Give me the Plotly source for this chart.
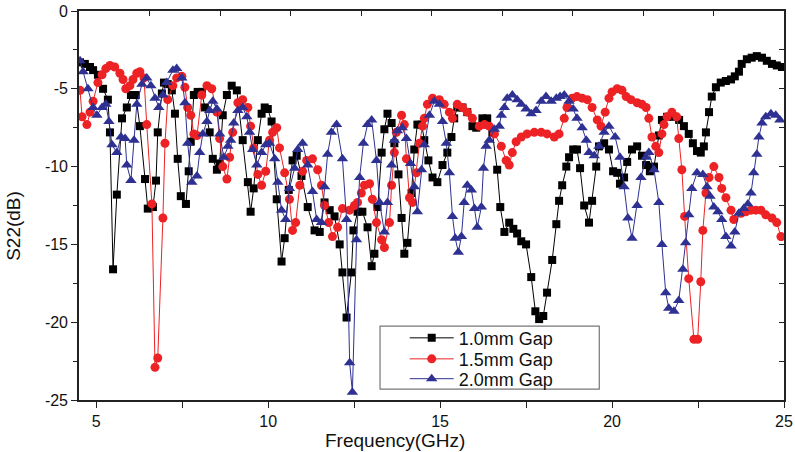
import plotly.graph_objects as go

# ---------------- data ----------------
gap10_f = [4.53,4.67,4.82,4.91,5.05,5.20,5.34,5.40,5.49,5.60,5.75,5.89,6.01,6.15,6.27,6.42,6.50,6.65,6.74,6.79,
           6.91,6.97,7.08,7.20,7.29,7.37,7.46,7.61,7.69,7.75,7.84,7.95,8.07,8.16,8.30,8.39,8.51,8.59,8.68,8.80,
           8.94,9.09,9.26,9.41,9.49,9.58,9.70,9.81,9.90,9.99,10.10,10.25,10.39,10.48,10.60,10.71,10.83,10.97,11.15,11.35,
           11.50,11.64,11.79,11.93,12.08,12.16,12.28,12.42,12.48,12.60,12.74,12.89,13.01,13.09,13.18,13.30,13.38,13.47,13.59,13.67,
           13.79,13.88,13.96,14.05,14.17,14.25,14.34,14.46,14.54,14.66,14.78,14.92,15.07,15.21,15.33,15.41,15.50,15.65,15.79,15.94,
           16.05,16.23,16.37,16.52,16.66,16.75,16.87,17.01,17.13,17.24,17.36,17.50,17.65,17.77,17.88,18.00,18.11,18.26,18.38,18.46,
           18.55,18.67,18.75,18.87,18.98,19.07,19.19,19.33,19.42,19.54,19.62,19.77,19.91,20.03,20.15,20.23,20.35,20.44,20.58,20.73,
           20.87,20.99,21.10,21.22,21.36,21.45,21.60,21.80,21.95,22.09,22.23,22.35,22.47,22.58,22.67,22.73,22.82,22.90,23.02,23.16,
           23.31,23.46,23.57,23.69,23.77,23.92,24.06,24.21,24.36,24.50,24.65,24.79,24.94]
gap10_s22 = [-3.3,-3.4,-3.6,-3.8,-4.1,-5.0,-5.7,-7.8,-16.6,-11.8,-6.9,-6.2,-5.4,-5.4,-7.4,-10.8,-12.7,-12.6,-10.9,-7.8,
             -5.3,-4.6,-4.7,-5.1,-6.6,-9.5,-11.9,-12.4,-10.3,-8.4,-5.4,-5.2,-5.2,-6.2,-7.8,-9.5,-10.2,-9.8,-6.7,-5.4,
             -4.8,-5.1,-8.3,-11.0,-12.9,-11.4,-8.3,-6.6,-6.2,-6.3,-7.1,-12.1,-16.1,-14.6,-11.5,-9.6,-9.3,-10.6,-12.6,-14.1,
             -14.2,-12.3,-12.8,-13.2,-15.0,-16.8,-19.7,-16.8,-14.1,-12.9,-12.9,-13.9,-16.4,-15.6,-12.6,-9.1,-7.6,-6.6,-7.2,-8.5,
             -10.5,-13.3,-15.6,-14.9,-11.7,-8.9,-7.3,-7.3,-8.3,-9.6,-10.7,-11.0,-9.9,-9.1,-8.1,-6.9,-6.2,-6.2,-6.5,-7.4,
             -7.5,-6.9,-6.9,-7.8,-10.2,-12.6,-14.2,-13.6,-14.0,-14.3,-14.8,-15.0,-17.1,-19.3,-19.8,-19.6,-18.1,-16.0,-13.7,-12.2,
             -11.2,-10.0,-9.4,-8.9,-8.9,-10.1,-12.5,-13.6,-12.2,-10.0,-8.7,-8.5,-8.9,-10.3,-10.4,-11.1,-10.7,-9.7,-8.9,-8.7,
             -9.3,-9.9,-10.3,-10.0,-8.0,-7.0,-6.8,-6.8,-7.0,-7.4,-7.9,-8.5,-9.0,-9.1,-8.7,-7.8,-6.5,-5.5,-4.9,-4.6,
             -4.5,-4.4,-4.2,-3.9,-3.4,-3.1,-3.0,-2.9,-3.0,-3.2,-3.4,-3.5,-3.6]

gap15_f = [4.53,4.59,4.73,4.82,4.91,5.05,5.17,5.28,5.40,5.54,5.69,5.78,5.86,5.98,6.07,6.18,6.27,6.39,6.47,6.62,
           6.71,6.79,6.94,7.00,7.08,7.23,7.34,7.49,7.58,7.66,7.75,7.84,7.93,8.07,8.22,8.36,8.51,8.59,8.68,8.80,
           8.88,8.97,9.12,9.26,9.41,9.49,9.58,9.70,9.81,9.93,10.04,10.13,10.25,10.33,10.48,10.62,10.71,10.80,10.92,11.00,
           11.12,11.29,11.44,11.55,11.64,11.76,11.87,12.02,12.16,12.37,12.51,12.60,12.71,12.80,12.95,13.03,13.15,13.30,13.38,13.53,
           13.59,13.67,13.73,13.88,13.96,14.02,14.11,14.20,14.31,14.40,14.49,14.54,14.63,14.78,14.98,15.12,15.27,15.36,15.50,15.65,
           15.79,15.94,16.14,16.29,16.43,16.58,16.78,16.92,17.01,17.10,17.21,17.36,17.53,17.74,17.94,18.11,18.32,18.46,18.61,18.69,
           18.84,18.98,19.13,19.28,19.42,19.57,19.68,19.80,19.91,20.00,20.15,20.29,20.41,20.55,20.73,20.87,20.99,21.07,21.16,21.27,
           21.36,21.45,21.51,21.60,21.74,21.88,21.94,22.03,22.11,22.23,22.38,22.49,22.58,22.64,22.73,22.82,22.96,23.11,23.19,23.31,
           23.46,23.54,23.75,23.89,24.04,24.18,24.33,24.47,24.65,24.79,24.91]
gap15_s22 = [-5.1,-6.8,-7.3,-6.5,-5.8,-4.6,-4.1,-3.7,-3.5,-3.6,-4.0,-4.4,-5.0,-4.8,-4.4,-4.0,-3.9,-4.3,-7.3,-12.4,
             -22.9,-22.3,-13.3,-8.5,-5.7,-4.8,-4.3,-4.2,-4.9,-6.2,-6.7,-7.9,-8.0,-5.4,-4.8,-5.0,-6.5,-8.2,-10.0,-10.8,
             -9.4,-7.8,-5.9,-5.7,-6.2,-7.4,-8.8,-10.5,-11.2,-10.3,-8.3,-7.8,-7.5,-8.8,-10.4,-12.1,-14.1,-13.6,-11.2,-10.3,
             -9.6,-9.5,-10.2,-11.2,-12.5,-13.6,-14.5,-13.9,-12.7,-12.8,-12.5,-12.3,-11.7,-11.2,-11.1,-12.1,-13.6,-14.7,-15.2,-13.6,
             -11.2,-9.1,-7.8,-6.7,-7.3,-9.5,-12.0,-12.3,-10.4,-8.5,-7.4,-6.9,-6.0,-5.6,-5.7,-6.0,-6.5,-6.9,-6.0,-6.2,
             -6.5,-6.9,-7.4,-7.3,-7.4,-7.9,-8.7,-9.6,-9.9,-9.1,-8.4,-8.1,-7.9,-7.8,-7.8,-7.9,-8.1,-7.9,-6.9,-6.2,
             -5.6,-5.5,-5.6,-5.7,-6.2,-7.0,-7.4,-6.5,-5.6,-5.2,-5.0,-5.1,-5.5,-5.7,-5.9,-6.0,-6.2,-6.9,-8.1,-8.7,
             -9.1,-7.9,-7.3,-6.8,-6.5,-6.8,-8.2,-10.2,-13.2,-17.2,-21.1,-21.1,-17.4,-14.1,-11.7,-10.7,-10.0,-10.7,-11.4,-12.0,
             -12.8,-13.4,-13.0,-12.9,-12.8,-12.8,-12.8,-13.1,-13.3,-13.6,-14.5]

gap20_f = [4.53,4.62,4.76,4.91,5.02,5.17,5.28,5.37,5.46,5.60,5.72,5.84,5.89,6.01,6.10,6.18,6.33,6.47,6.59,6.71,
           6.82,6.94,7.05,7.23,7.34,7.49,7.58,7.66,7.78,7.93,8.01,8.10,8.22,8.30,8.39,8.51,8.59,8.71,8.83,8.91,
           9.00,9.12,9.26,9.38,9.46,9.55,9.67,9.81,9.93,10.04,10.19,10.28,10.39,10.51,10.62,10.77,10.86,11.00,11.15,11.29,
           11.41,11.55,11.64,11.73,11.84,11.99,12.16,12.28,12.37,12.45,12.57,12.66,12.77,12.89,13.01,13.15,13.24,13.38,13.47,13.59,
           13.67,13.76,13.90,14.02,14.14,14.25,14.34,14.46,14.54,14.69,14.83,14.98,15.07,15.18,15.27,15.36,15.44,15.53,15.62,15.70,
           15.79,15.91,16.00,16.08,16.20,16.26,16.34,16.43,16.58,16.72,16.78,16.87,16.95,17.10,17.24,17.36,17.50,17.65,17.79,17.94,
           18.08,18.23,18.38,18.49,18.61,18.75,18.87,18.98,19.13,19.25,19.33,19.48,19.62,19.77,19.91,20.09,20.23,20.35,20.46,20.58,
           20.73,20.84,20.99,21.07,21.22,21.36,21.45,21.56,21.65,21.80,21.94,22.06,22.14,22.23,22.32,22.47,22.64,22.76,22.85,22.96,
           23.08,23.19,23.31,23.46,23.57,23.69,23.83,23.95,24.04,24.12,24.21,24.27,24.36,24.47,24.62,24.76,24.88]
gap20_s22 = [-3.2,-3.9,-5.0,-6.2,-6.7,-6.2,-6.0,-7.1,-8.6,-9.1,-8.1,-8.2,-9.9,-10.9,-8.3,-6.0,-4.7,-4.3,-4.8,-5.6,
             -6.2,-5.4,-4.6,-3.8,-3.7,-4.3,-5.9,-8.5,-11.0,-10.6,-9.1,-7.9,-7.1,-6.4,-5.8,-6.3,-7.9,-9.4,-8.7,-8.3,
             -7.2,-6.4,-6.2,-6.8,-7.8,-8.9,-9.9,-9.1,-8.6,-8.5,-9.5,-11.0,-12.8,-13.4,-11.4,-10.1,-8.9,-8.5,-9.9,-11.6,
             -13.4,-13.6,-11.3,-9.2,-7.8,-7.3,-9.5,-13.4,-22.6,-24.5,-14.7,-10.7,-8.5,-7.3,-7.0,-9.6,-12.3,-14.2,-12.3,-9.9,
             -8.3,-7.7,-7.5,-8.2,-9.8,-11.3,-12.9,-10.2,-8.6,-6.7,-5.8,-6.0,-7.1,-8.5,-10.4,-13.2,-14.6,-15.5,-14.5,-12.3,
             -11.2,-11.5,-12.7,-13.9,-12.6,-10.1,-8.7,-8.3,-7.6,-7.4,-6.7,-6.2,-5.6,-5.4,-5.7,-6.0,-6.3,-6.6,-6.4,-5.8,
             -5.5,-5.8,-5.6,-5.5,-5.4,-5.8,-6.3,-6.9,-7.5,-8.3,-9.1,-9.3,-8.7,-7.8,-7.4,-8.1,-9.4,-11.3,-13.3,-14.6,
             -12.5,-10.7,-9.4,-9.1,-10.2,-12.3,-15.0,-18.1,-19.1,-19.3,-18.6,-16.6,-14.9,-13.1,-11.4,-10.4,-10.5,-11.3,-11.9,-12.6,
             -12.9,-13.4,-14.5,-15.1,-14.2,-13.0,-12.7,-12.4,-11.7,-10.4,-9.2,-8.1,-7.2,-6.8,-6.6,-6.7,-7.0]

series_names = ["1.0mm Gap", "1.5mm Gap", "2.0mm Gap"]
series_colors = ["#000000", "#ED2224", "#2E3192"]
series_symbols = ["square", "circle", "triangle-up"]

y_tickvals = [-25, -20, -15, -10, -5, 0]
y_ticktext = ["-25", "-20", "-15", "-10", "-5", "0"]
x_tickvals = [5, 10, 15, 20, 25]
x_ticktext = ["5", "10", "15", "20", "25"]

FONT = "Liberation Sans, Arial, sans-serif"
AX = "#222222"

# ---------------- figure ----------------
fig = go.Figure()
xs = [gap10_f, gap15_f, gap20_f]
ys = [gap10_s22, gap15_s22, gap20_s22]
sizes = [8, 9, 10]
legend_ids = ["legend", "legend2", "legend3"]
for x, y, name, col, sym, sz, lg in zip(xs, ys, series_names, series_colors, series_symbols, sizes, legend_ids):
    fig.add_trace(go.Scatter(
        x=x, y=y, name=name, mode="lines+markers", legend=lg,
        line=dict(color=col, width=1),
        marker=dict(symbol=sym, size=sz, color=col, line=dict(width=0)),
    ))

# invisible trace to carry the mirrored top/right axes
fig.add_trace(go.Scatter(x=[None], y=[None], xaxis="x2", yaxis="y2",
                         showlegend=False, hoverinfo="skip"))

common = dict(showgrid=False, zeroline=False, automargin=False, showline=True,
              linewidth=1.6, linecolor=AX, tickwidth=1.3, tickcolor=AX)

def legend_box(yc):
    return dict(x=0.462, y=yc, xanchor="left", yanchor="middle",
                bgcolor="rgba(0,0,0,0)", borderwidth=0,
                font=dict(family=FONT, size=18, color="#111111"),
                itemwidth=44)

fig.update_layout(
    template="none",
    width=795, height=452,
    margin=dict(l=79, r=11, t=11, b=52, autoexpand=False),
    paper_bgcolor="white", plot_bgcolor="white",
    font=dict(family=FONT, color="#111111"),
    showlegend=True,
    legend=legend_box(0.159),
    legend2=legend_box(0.105),
    legend3=legend_box(0.054),
    xaxis=dict(range=[4.5, 25], tickmode="array", tickvals=x_tickvals, ticktext=x_ticktext,
               ticks="outside", ticklen=6,
               minor=dict(ticks="outside", ticklen=6, tickwidth=1.3, tick0=0, dtick=2.5, tickcolor=AX),
               tickfont=dict(family=FONT, size=16, color="#111111"), **common),
    yaxis=dict(range=[-25, 0], tickmode="array", tickvals=y_tickvals, ticktext=y_ticktext,
               ticks="outside", ticklen=6,
               minor=dict(ticks="outside", ticklen=4, tickwidth=1.3, tick0=0, dtick=2.5, tickcolor=AX),
               tickfont=dict(family=FONT, size=16, color="#111111"), **common),
    xaxis2=dict(overlaying="x", side="top", anchor="y", range=[0, 10], dtick=1, tick0=0,
                ticks="inside", ticklen=5, showticklabels=False, **common),
    yaxis2=dict(overlaying="y", side="right", anchor="x", range=[-25, 0], dtick=2.5, tick0=0,
                ticks="inside", ticklen=5, showticklabels=False, **common),
)

# legend frame
fig.add_shape(type="rect", xref="paper", yref="paper",
              x0=0.427, x1=0.738, y0=0.028, y1=0.190,
              line=dict(color="#777777", width=1.2), fillcolor="white", layer="below")

# axis titles
fig.add_annotation(text="Frequency(GHz)", xref="paper", yref="paper", x=0.448, y=-0.104,
                   showarrow=False, xanchor="center", yanchor="middle",
                   font=dict(family=FONT, size=19, color="#111111"))
fig.add_annotation(text="S22(dB)", xref="paper", yref="paper", x=-0.094, y=0.447,
                   showarrow=False, xanchor="center", yanchor="middle", textangle=-90,
                   font=dict(family=FONT, size=19, color="#111111"))

fig.write_html("out.html", config={"displayModeBar": False},
               post_script="document.body.style.margin='0';document.body.style.overflow='hidden';")
